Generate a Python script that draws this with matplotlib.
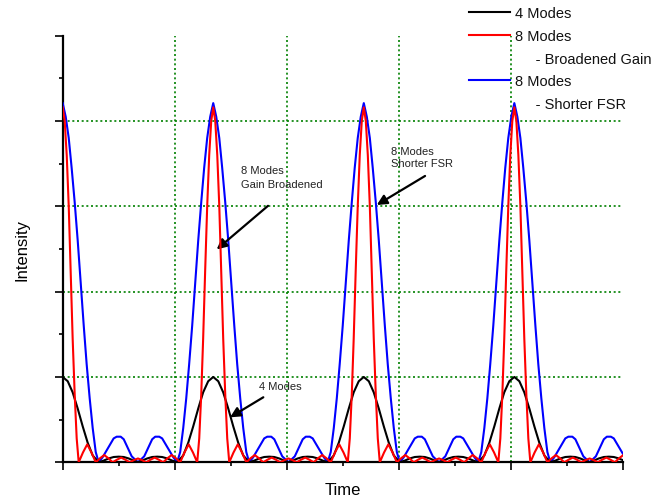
import numpy as np
import matplotlib
matplotlib.use("Agg")
import matplotlib.pyplot as plt
from matplotlib.lines import Line2D

plt.rcParams['font.family'] = ['Liberation Sans', 'DejaVu Sans']

# ---------------- data ----------------
# times (x-axis units) at which the pulses peak
PULSE_TIMES = [0.0, 1.344, 2.688, 4.032]

# one round trip, from a peak to the next peak: time offset / intensity
BLACK_T = [0.000, 0.045, 0.089, 0.134, 0.179, 0.223, 0.268, 0.321,
           0.366, 0.411, 0.455, 0.500, 0.545, 0.589, 0.634, 0.672,
           0.710, 0.754, 0.799, 0.844, 0.888, 0.933, 0.978, 1.022,
           1.076, 1.121, 1.165, 1.210, 1.254, 1.299, 1.344]
BLACK_I = [1.00, 0.95, 0.82, 0.63, 0.42, 0.23, 0.08, 0.00,
           0.02, 0.045, 0.062, 0.066, 0.062, 0.045, 0.02, 0.00,
           0.02, 0.045, 0.062, 0.066, 0.062, 0.045, 0.02, 0.00,
           0.08, 0.23, 0.42, 0.63, 0.82, 0.95, 1.00]

RED_T = [0.000, 0.018, 0.036, 0.054, 0.071, 0.089, 0.107, 0.125, 0.143,
         0.181, 0.219, 0.257, 0.295,
         0.333, 0.371, 0.408, 0.446,
         0.484, 0.522, 0.560, 0.598,
         0.635, 0.672, 0.709, 0.746,
         0.783, 0.821, 0.859, 0.897,
         0.935, 0.973, 1.011, 1.049,
         1.087, 1.125, 1.163, 1.201,
         1.219, 1.237, 1.254, 1.272, 1.290, 1.308, 1.326, 1.344]
RED_I = [4.16, 4.00, 3.60, 3.00, 2.25, 1.45, 0.80, 0.28, 0.00,
         0.115, 0.21, 0.115, 0.00,
         0.047, 0.085, 0.047, 0.00,
         0.03, 0.055, 0.03, 0.00,
         0.025, 0.045, 0.025, 0.00,
         0.03, 0.055, 0.03, 0.00,
         0.047, 0.085, 0.047, 0.00,
         0.115, 0.21, 0.115, 0.00,
         0.28, 0.80, 1.45, 2.25, 3.00, 3.60, 4.00, 4.16]

BLUE_T = [0.000, 0.027, 0.054, 0.080, 0.107, 0.134, 0.161, 0.188, 0.214,
          0.241, 0.268, 0.295, 0.321,
          0.357, 0.393, 0.429, 0.455, 0.482, 0.518, 0.545, 0.580, 0.616,
          0.672,
          0.728, 0.763, 0.799, 0.826, 0.862, 0.888, 0.915, 0.951, 0.987,
          1.022,
          1.049, 1.076, 1.103, 1.129, 1.156, 1.183, 1.210, 1.237, 1.263,
          1.290, 1.317, 1.344]
BLUE_I = [4.21, 4.05, 3.80, 3.45, 3.05, 2.60, 2.10, 1.60, 1.15,
          0.75, 0.40, 0.12, 0.00,
          0.06, 0.14, 0.22, 0.28, 0.30, 0.30, 0.27, 0.17, 0.07,
          0.00,
          0.07, 0.17, 0.27, 0.30, 0.30, 0.28, 0.22, 0.14, 0.06,
          0.00,
          0.12, 0.40, 0.75, 1.15, 1.60, 2.10, 2.60, 3.05, 3.45,
          3.80, 4.05, 4.21]

LEGEND_LABELS = ['4 Modes', '8 Modes', '     - Broadened Gain',
                 '8 Modes', '     - Shorter FSR']


def pulse_train(offsets, values):
    xs, ys = [], []
    for k, t0 in enumerate(PULSE_TIMES):
        start = 0 if k == 0 else 1
        xs.extend(t0 + o for o in offsets[start:])
        ys.extend(values[start:])
    return np.array(xs), np.array(ys)


# ---------------- figure ----------------
fig = plt.figure(figsize=(6.53, 5.02), dpi=100)
ax = fig.add_axes([0.096, 0.0771, 0.8577, 0.8498])

bx, by = pulse_train(BLUE_T, BLUE_I)
kx, ky = pulse_train(BLACK_T, BLACK_I)
rx, ry = pulse_train(RED_T, RED_I)

l_blue, = ax.plot(bx, by, color='#0000ff', lw=1.5, zorder=3)
l_black, = ax.plot(kx, ky, color='black', lw=1.5, zorder=4)
l_red, = ax.plot(rx, ry, color='#ff0000', lw=1.5, zorder=5)

ax.set_xlim(0, 5)
ax.set_ylim(0, 5)
ax.set_xticks(np.arange(0, 6, 1))
ax.set_yticks(np.arange(0, 6, 1))
ax.set_xticks(np.arange(0.5, 5, 1), minor=True)
ax.set_yticks(np.arange(0.5, 5, 1), minor=True)
ax.tick_params(which='major', direction='out', length=6, width=1.2,
               labelleft=False, labelbottom=False)
ax.tick_params(which='minor', direction='out', length=3, width=1.2)

for side in ('top', 'right'):
    ax.spines[side].set_visible(False)
for side in ('left', 'bottom'):
    ax.spines[side].set_linewidth(1.6)

# dotted green grid at the interior major ticks
grid_kw = dict(color='#008000', linestyle=(0, (1.2, 1.6)), linewidth=1.2, zorder=1)
for xv in ax.get_xticks()[1:-1]:
    ax.axvline(xv, **grid_kw)
for yv in ax.get_yticks()[1:-1]:
    ax.axhline(yv, **grid_kw)

ax.set_xlabel('Time', fontsize=12)
ax.xaxis.label.set_va('center')
ax.xaxis.set_label_coords(0.5, -0.064)
ax.set_ylabel('Intensity', fontsize=12)
ax.yaxis.label.set_va('center')
ax.yaxis.set_label_coords(-0.0735, 0.5)

# annotations
txt_kw = dict(fontsize=8, color='#222222', ha='left', va='center')
arrow_kw = dict(arrowstyle='-|>', color='black', lw=1.6, mutation_scale=15,
                shrinkA=0, shrinkB=0)
ax.text(1.592, 3.345, '8 Modes\nGain Broadened', linespacing=1.5, **txt_kw)
ax.annotate('', xy=(1.375, 2.495), xytext=(1.833, 3.006), arrowprops=arrow_kw)
ax.text(2.931, 3.575, '8 Modes\nShorter FSR', linespacing=1.3, **txt_kw)
ax.annotate('', xy=(2.804, 3.016), xytext=(3.235, 3.356), arrowprops=arrow_kw)
ax.text(1.753, 0.897, '4 Modes', **txt_kw)
ax.annotate('', xy=(1.494, 0.527), xytext=(1.791, 0.762), arrowprops=arrow_kw)

# legend
blank = Line2D([], [], color='none')
leg = ax.legend([l_black, l_red, blank, l_blue, blank], LEGEND_LABELS,
                loc='upper left', bbox_to_anchor=(469 / 653, 1 - 7 / 502),
                bbox_transform=fig.transFigure, frameon=False, fontsize=10.5,
                borderpad=0, borderaxespad=0, handlelength=2.8,
                handletextpad=0.35, labelspacing=0.6)
for t in leg.get_texts():
    t.set_color('#111111')

fig.savefig('out.png', dpi=100)
